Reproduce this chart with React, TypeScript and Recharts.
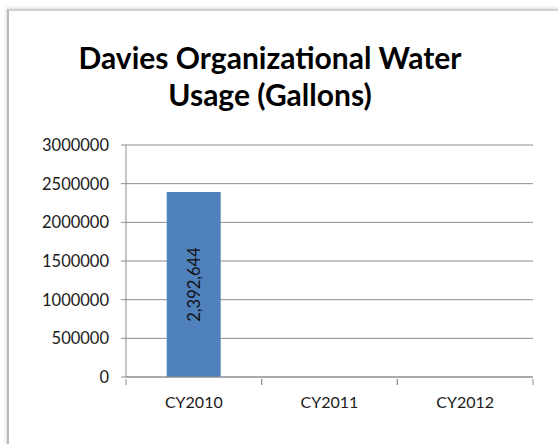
import React from "react";
import { BarChart, Bar, XAxis, YAxis, CartesianGrid, LabelList } from "recharts";

const categories = ["CY2010", "CY2011", "CY2012"];
const usageGallons: (number | null)[] = [2392644, null, null];
const yTicks = [0, 500000, 1000000, 1500000, 2000000, 2500000, 3000000];
const titleLines = ["Davies Organizational Water", "Usage (Gallons)"];

const data = categories.map((c, i) => ({ name: c, value: usageGallons[i] }));

const FONT = "Lato, 'Open Sans', sans-serif";
const GRID = "#8c8c8c";

const XTick = (props: any) => {
  const { x, y, payload } = props;
  const off = payload.offset || 0;
  return (
    <g>
      <line x1={x - off} y1={y - 6} x2={x - off} y2={y} stroke={GRID} strokeWidth={1} />
      <line x1={x + off} y1={y - 6} x2={x + off} y2={y} stroke={GRID} strokeWidth={1} />
      <text x={x} y={y + 23} textAnchor="middle" fontFamily={FONT} fontSize={16} fill="#1a1a1a">
        {payload.value}
      </text>
    </g>
  );
};

const BarLabel = (props: any) => {
  const { x, y, width, height, value } = props;
  if (value == null) return null;
  const cx = x + width / 2;
  const cy = y + height / 2;
  return (
    <text
      x={cx}
      y={cy}
      transform={`rotate(-90 ${cx} ${cy})`}
      textAnchor="middle"
      dominantBaseline="central"
      fontFamily={FONT}
      fontSize={16.5}
      fill="#111"
    >
      {Number(value).toLocaleString("en-US")}
    </text>
  );
};

export default function App() {
  return (
    <div style={{ position: "absolute", left: 0, top: 0, width: 558, height: 444, background: "#fff", overflow: "hidden" }}>
      <div
        style={{
          position: "absolute",
          left: 7,
          top: 9,
          width: 700,
          height: 600,
          borderLeft: "2px solid #b8b8b8",
          borderTop: "2px solid #d0d0d0",
          boxShadow: "-1px -1px 3px rgba(0,0,0,0.15)",
        }}
      />
      <div
        style={{
          position: "absolute",
          left: 0,
          top: 39,
          width: 540,
          textAlign: "center",
          fontFamily: FONT,
          fontWeight: 700,
          fontSize: 30,
          lineHeight: "37px",
          color: "#000",
        }}
      >
        {titleLines.map((t) => (
          <div key={t}>{t}</div>
        ))}
      </div>
      <div style={{ position: "absolute", left: 0, top: 0 }}>
        <BarChart
          width={558}
          height={444}
          data={data}
          margin={{ top: 145, right: 25, bottom: 37, left: 0 }}
          barCategoryGap="30%"
        >
          <CartesianGrid vertical={false} stroke={GRID} strokeWidth={1} />
          <XAxis
            dataKey="name"
            height={30}
            axisLine={{ stroke: GRID }}
            tickLine={false}
            tick={<XTick />}
            interval={0}
          />
          <YAxis
            width={126}
            domain={[0, 3000000]}
            ticks={yTicks}
            interval={0}
            axisLine={{ stroke: GRID }}
            tickLine={{ stroke: GRID }}
            tickSize={5}
            tickMargin={12}
            tick={{ fontFamily: FONT, fontSize: 16.5, fill: "#1a1a1a" }}
          />
          <Bar dataKey="value" fill="#4f81bd" isAnimationActive={false}>
            <LabelList dataKey="value" content={<BarLabel />} />
          </Bar>
        </BarChart>
      </div>
    </div>
  );
}
